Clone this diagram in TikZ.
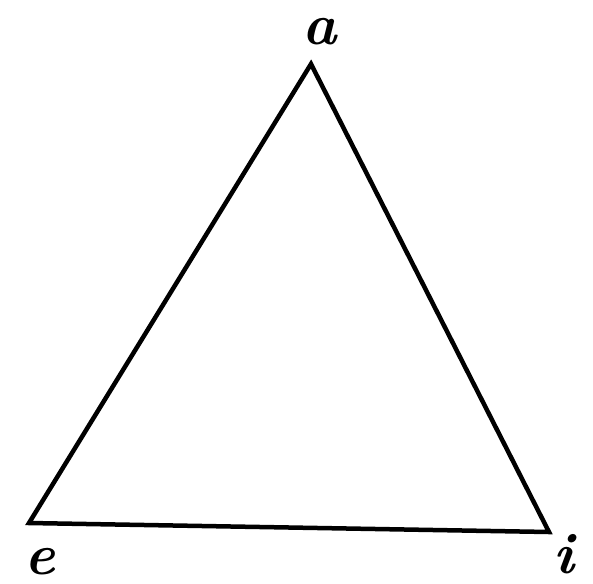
\documentclass[tikz,border=0pt]{standalone}
\begin{document}
\begin{tikzpicture}[x=1pt,y=-1pt,
  edge/.style={line width=4.5pt,line join=miter,line cap=round},
  lbl/.style={font=\fontsize{58}{64}\selectfont\bfseries\itshape,inner sep=0pt}]
\useasboundingbox (0,0) rectangle (593,583);
\coordinate (A) at (311,64);
\coordinate (E) at (29,523);
\coordinate (I) at (549,532);
\draw[edge] (A) -- (E) -- (I) -- cycle;
\node[lbl,anchor=base] (la) at (320,45) {a};
\node[lbl,anchor=base] (le) at (40,574) {e};
\node[lbl,anchor=base] (li) at (564,573) {i};
\end{tikzpicture}
\end{document}
